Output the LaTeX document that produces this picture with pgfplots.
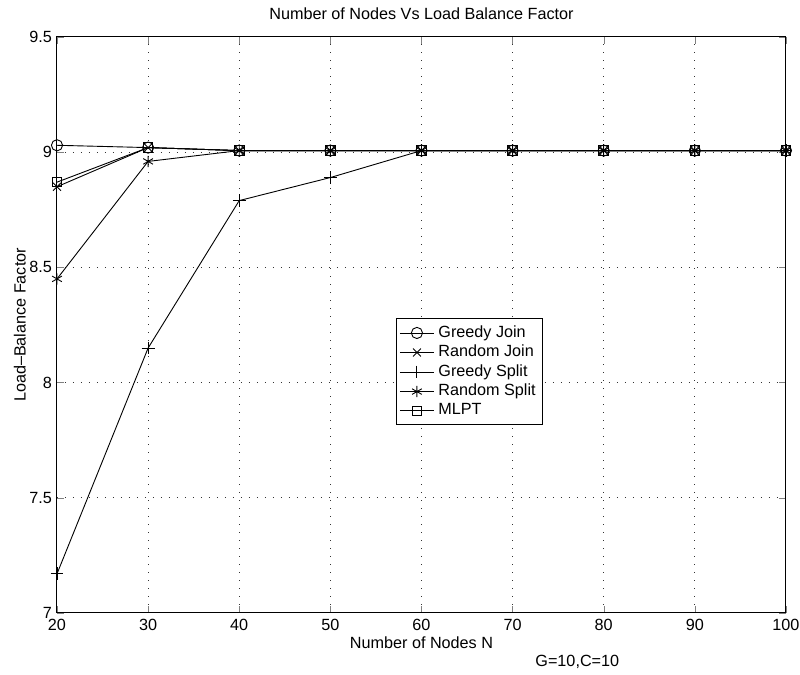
\documentclass[border=0pt]{standalone}
\usepackage{fontspec}
\setmainfont{Liberation Sans}
\usepackage{pgfplots}
\pgfplotsset{compat=1.18}
\newcommand{\fs}{\fontsize{8.1}{9.7}\selectfont}
\begin{document}
\begin{tikzpicture}
\useasboundingbox[fill=white] (-28.5pt,-31pt) rectangle (371.5pt,306.5pt);
\begin{axis}[
  at={(0,0)}, anchor=south west,
  scale only axis, width=364.5pt, height=288pt,
  xmin=20, xmax=100, ymin=7, ymax=9.5,
  clip=false,
  xtick={20,30,...,100},
  ytick={7,7.5,8,8.5,9,9.5},
  yticklabels={7,7.5,8,8.5,9,9.5},
  /pgf/number format/assume math mode=true,
  tick label style={font=\fs},
  tick align=inside, major tick length=3.5pt,
  xticklabel style={yshift=0.5pt},
  yticklabel style={xshift=1pt},
  grid=major,
  major grid style={dash pattern=on 0.6pt off 3.4pt, black!80, line width=0.5pt},
  axis line style={line width=0.5pt},
  title={Number of Nodes Vs Load Balance Factor},
  title style={font=\fs, yshift=-1pt},
  xlabel={Number of Nodes N},
  ylabel={Load--Balance Factor},
  label style={font=\fs},
  xlabel style={yshift=4pt},
  ylabel style={yshift=-5pt},
  legend style={font=\fs, at={(0.465,0.512)}, anchor=north west,
    draw=black, line width=0.5pt, inner sep=1.5pt, row sep=-1.6pt,
    cells={anchor=west}},
  legend image post style={line width=0.4pt},
  every axis plot/.append style={black, line width=0.45pt, mark size=2.8pt,
    mark options={solid, line width=0.45pt}},
]
\addplot[mark=o] coordinates {(20,9.03) (30,9.02) (40,9.007) (50,9.007) (60,9.007) (70,9.007) (80,9.007) (90,9.007) (100,9.007)};
\addlegendentry{Greedy Join}
\addplot[mark=x] coordinates {(20,8.85) (30,9.02) (40,9.007) (50,9.007) (60,9.007) (70,9.007) (80,9.007) (90,9.007) (100,9.007)};
\addlegendentry{Random Join}
\addplot[mark=+, mark size=3.2pt] coordinates {(20,7.17) (30,8.15) (40,8.79) (50,8.89) (60,9.007) (70,9.007) (80,9.007) (90,9.007) (100,9.007)};
\addlegendentry{Greedy Split}
\addplot[mark=asterisk] coordinates {(20,8.45) (30,8.96) (40,9.007) (50,9.007) (60,9.007) (70,9.007) (80,9.007) (90,9.007) (100,9.007)};
\addlegendentry{Random Split}
\addplot[mark=square, mark size=2.4pt] coordinates {(20,8.87) (30,9.02) (40,9.007) (50,9.007) (60,9.007) (70,9.007) (80,9.007) (90,9.007) (100,9.007)};
\addlegendentry{MLPT}
\node[font=\fs] at (axis cs:77.1,7) [yshift=-24.5pt] {G=10,C=10};
\end{axis}
\end{tikzpicture}
\end{document}
